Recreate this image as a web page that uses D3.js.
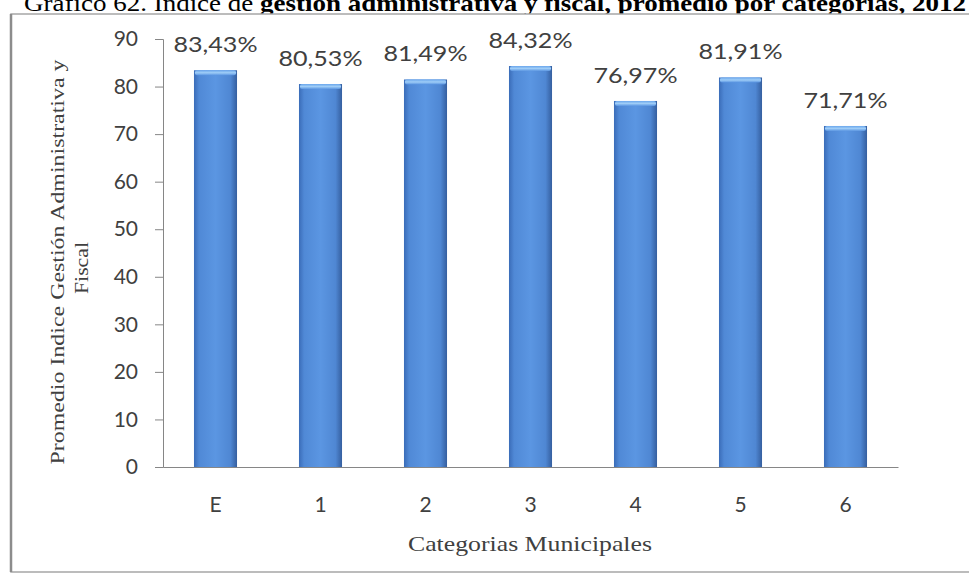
<!DOCTYPE html>
<html><head><meta charset="utf-8">
<script src="https://cdn.jsdelivr.net/npm/d3@7"></script>
<style>body{margin:0;background:#fff;} svg{display:block;}</style>
</head><body>
<svg id="chart" width="969" height="577"></svg>
<script>
const categories = ["E","1","2","3","4","5","6"];
const values = [83.43, 80.53, 81.49, 84.32, 76.97, 81.91, 71.71];
const valueLabels = ["83,43%","80,53%","81,49%","84,32%","76,97%","81,91%","71,71%"];
const yTicks = [0,10,20,30,40,50,60,70,80,90];

const svg = d3.select("#chart");
const defs = svg.append("defs");
const g1 = defs.append("linearGradient").attr("id","barg").attr("x1","0").attr("x2","1").attr("y1","0").attr("y2","0");
[["0%","#3a6cb8"],["12%","#5089d6"],["50%","#5b96e2"],["85%","#4f87d3"],["100%","#355f9f"]].forEach(s=>g1.append("stop").attr("offset",s[0]).attr("stop-color",s[1]));
const g2 = defs.append("linearGradient").attr("id","capg").attr("x1","0").attr("x2","0").attr("y1","0").attr("y2","1");
[["0%","#6aa6ec"],["50%","#9fcdf7"],["100%","#5b96e2"]].forEach(s=>g2.append("stop").attr("offset",s[0]).attr("stop-color",s[1]));

// title (partly cut at the top, as in the source)
const title = svg.append("text").attr("x",24).attr("y",11)
  .attr("font-family","Liberation Serif, Times New Roman, serif").attr("font-size",23).attr("fill","#000")
  .attr("textLength",942).attr("lengthAdjust","spacingAndGlyphs");
title.append("tspan").attr("font-weight","normal").text("Gráfico 62. Índice de ");
title.append("tspan").attr("font-weight","bold").text("gestión administrativa y fiscal, promedio por categorías, 2012");

// chart frame
svg.append("rect").attr("x",11).attr("y",14).attr("width",970).attr("height",558)
  .attr("fill","#fff").attr("stroke","#a6a6a6").attr("stroke-width",1.5);
svg.append("line").attr("x1",11).attr("x2",11).attr("y1",14).attr("y2",572).attr("stroke","#8c8c8c").attr("stroke-width",2.5);

const x = d3.scaleBand().domain(categories).range([163,898]).paddingInner(0.59).paddingOuter(0.295);
const y = d3.scaleLinear().domain([0,90]).range([467,39]);

// y axis
const yAxis = svg.append("g").attr("transform","translate(163,0)")
  .call(d3.axisLeft(y).tickValues(yTicks).tickSize(8).tickPadding(17).tickFormat(d3.format("d")));
yAxis.select(".domain").attr("stroke","#868686");
yAxis.selectAll(".tick line").attr("stroke","#868686");
yAxis.selectAll(".tick text").attr("font-family","Lato, Open Sans, sans-serif").attr("font-size",21).attr("fill","#404040");

// x axis
const xAxis = svg.append("g").attr("transform","translate(0,467)")
  .call(d3.axisBottom(x).tickSize(0).tickPadding(30).tickSizeOuter(0));
xAxis.select(".domain").attr("stroke","#868686");
xAxis.selectAll(".tick text").attr("font-family","Lato, Open Sans, sans-serif").attr("font-size",21).attr("fill","#404040");

// bars
const bars = svg.append("g").selectAll("g").data(categories).join("g");
bars.append("rect").attr("x",d=>x(d)).attr("width",x.bandwidth())
  .attr("y",(d,i)=>y(values[i])).attr("height",(d,i)=>y(0)-y(values[i]))
  .attr("fill","url(#barg)");
bars.append("rect").attr("x",d=>x(d)+1).attr("width",x.bandwidth()-2)
  .attr("y",(d,i)=>y(values[i])).attr("height",5).attr("rx",2)
  .attr("fill","url(#capg)");

// value labels
svg.append("g").selectAll("text").data(categories).join("text")
  .attr("x",d=>x(d)+x.bandwidth()/2).attr("y",(d,i)=>y(values[i])-18)
  .attr("text-anchor","middle").attr("font-family","Lato, Open Sans, sans-serif").attr("font-size",22).attr("fill","#404040")
  .attr("textLength",84).attr("lengthAdjust","spacingAndGlyphs")
  .text((d,i)=>valueLabels[i]);

// axis titles
svg.append("text").attr("x",530).attr("y",551).attr("text-anchor","middle")
  .attr("font-family","Liberation Serif, Times New Roman, serif").attr("font-size",21).attr("fill","#404040")
  .attr("textLength",244).attr("lengthAdjust","spacingAndGlyphs")
  .text("Categorias Municipales");
const yt = svg.append("text").attr("transform","translate(64,262) rotate(-90)").attr("text-anchor","middle")
  .attr("font-family","Liberation Serif, Times New Roman, serif").attr("font-size",19).attr("fill","#404040");
yt.append("tspan").attr("x",0).attr("dy",0).attr("textLength",405).attr("lengthAdjust","spacingAndGlyphs").text("Promedio Indice Gestión Administrativa y");
yt.append("tspan").attr("x",-6).attr("dy",24).attr("textLength",52).attr("lengthAdjust","spacingAndGlyphs").text("Fiscal");
</script>
</body></html>
